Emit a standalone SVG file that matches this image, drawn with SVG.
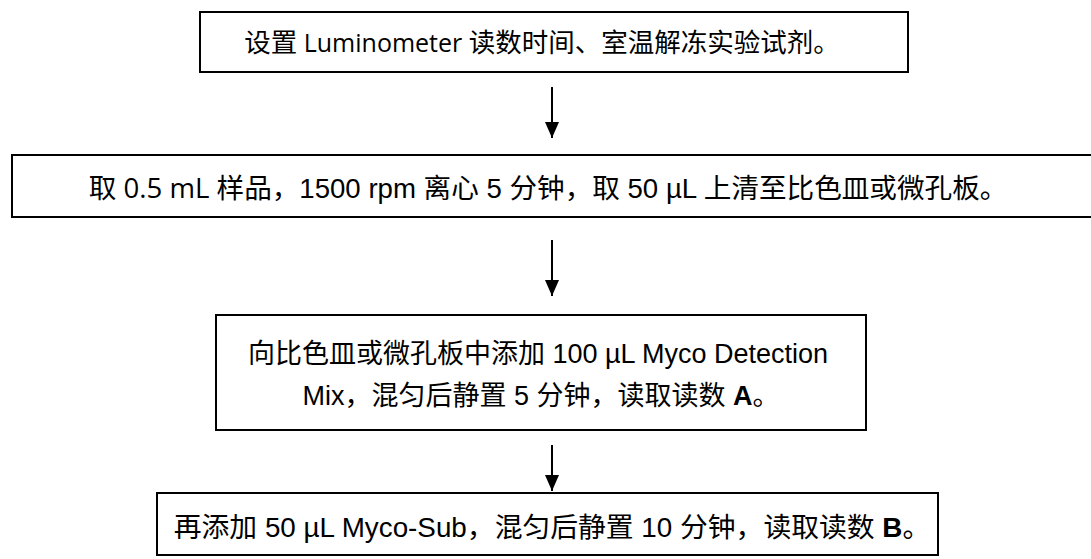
<svg xmlns="http://www.w3.org/2000/svg" width="1091" height="559" viewBox="0 0 1091 559">
<style>
.box{fill:#fff;stroke:#000;stroke-width:2}
.t{font-family:"Noto Sans CJK SC","Liberation Sans",sans-serif;font-size:27px;fill:#000;text-anchor:middle}
.l{font-family:"Liberation Sans",Arial,sans-serif}
.c{font-family:"Open Sans","Noto Sans",sans-serif}
.b{font-family:"Liberation Sans",Arial,sans-serif;font-weight:bold}
.conn{stroke:#000;stroke-width:2;fill:none}
</style>
<defs>
<marker id="ah" markerWidth="16" markerHeight="14" refX="16" refY="7" orient="auto" markerUnits="userSpaceOnUse" viewBox="0 0 16 14">
<path d="M0,0 L16,7 L0,14 Z" fill="#000"/>
</marker>
</defs>
<rect width="1091" height="559" fill="#fff"/>
<g id="connectors">
<line class="conn" x1="552" y1="87" x2="552" y2="138" marker-end="url(#ah)"/>
<line class="conn" x1="552" y1="240" x2="552" y2="296" marker-end="url(#ah)"/>
<line class="conn" x1="552" y1="445" x2="552" y2="491" marker-end="url(#ah)"/>
</g>
<g id="node1">
<rect class="box" x="200" y="12" width="708" height="60"/>
<text class="t" x="542" y="52" style="font-size:26.5px">设置<tspan class="c" style="font-size:25px"> Luminometer </tspan>读数时间、室温解冻实验试剂。</text>
</g>
<g id="node2">
<rect class="box" x="12" y="155" width="1080" height="62"/>
<text class="t" x="548" y="198" style="font-size:27.6px">取<tspan class="c"> 0.5 mL </tspan>样品，<tspan class="l">1500 rpm </tspan>离心<tspan class="l"> 5 </tspan>分钟，取<tspan class="l"> 50 µL </tspan>上清至比色皿或微孔板。</text>
</g>
<g id="node3">
<rect class="box" x="216" y="315" width="650" height="115"/>
<text class="t" x="538" y="363">向比色皿或微孔板中添加<tspan class="l"> 100 µL Myco Detection</tspan></text>
<text class="t" x="541" y="405"><tspan class="l">Mix</tspan>，混匀后静置<tspan class="l"> 5 </tspan>分钟，读取读数<tspan class="b"> A</tspan>。</text>
</g>
<g id="node4">
<rect class="box" x="157" y="493" width="781" height="62"/>
<text class="t" x="552" y="537" style="font-size:27.8px">再添加<tspan class="l"> 50 µL Myco-Sub</tspan>，混匀后静置<tspan class="l"> 10 </tspan>分钟，读取读数<tspan class="b"> B</tspan>。</text>
</g>
</svg>
